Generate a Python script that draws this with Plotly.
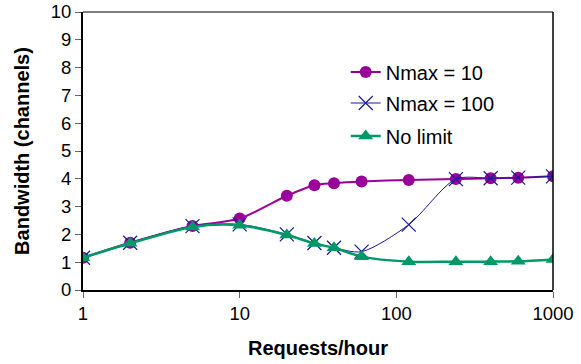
import plotly.graph_objects as go

requests = [1, 2, 5, 10, 20, 30, 40, 60, 120, 240, 400, 600, 1000]
nmax10 = [1.16, 1.70, 2.30, 2.57, 3.39, 3.77, 3.84, 3.90, 3.96, 3.99, 4.02, 4.04, 4.09]
nmax100 = [1.16, 1.70, 2.30, 2.36, 2.00, 1.69, 1.52, 1.38, 2.35, 3.99, 4.02, 4.04, 4.09]
nolimit = [1.16, 1.68, 2.27, 2.33, 1.98, 1.67, 1.52, 1.20, 1.02, 1.02, 1.02, 1.03, 1.10]
names = ["Nmax = 10", "Nmax = 100", "No limit"]
y_ticks = list(range(0, 11))
x_ticks = [1, 10, 100, 1000]

W, H = 581, 364
ML, MR, MT, MB = 83, 28, 12, 74
PH = H - MT - MB
FONT = "Arial, Liberation Sans, sans-serif"


def leg_y(py):
    # py: target pixel row in the window
    return 1 - (py - MT) / PH


fig = go.Figure()
fig.add_trace(go.Scatter(x=requests, y=nmax10, name=names[0], mode="lines+markers",
                         line=dict(color="#990099", width=2, shape="spline", smoothing=0.8),
                         marker=dict(symbol="circle", size=12, color="#990099"),
                         legend="legend", showlegend=True))
fig.add_trace(go.Scatter(x=requests, y=nmax100, name=names[1], mode="lines+markers",
                         line=dict(color="#1a1a99", width=1, shape="spline", smoothing=0.8),
                         marker=dict(symbol="x-thin", size=14, color="#1a1a99",
                                     line=dict(color="#1a1a99", width=1.2)),
                         legend="legend2", showlegend=True))
fig.add_trace(go.Scatter(x=requests, y=nolimit, name=names[2], mode="lines+markers",
                         line=dict(color="#009966", width=2.5, shape="spline", smoothing=0.8),
                         marker=dict(symbol="triangle-up", size=13, color="#009966"),
                         legend="legend3", showlegend=True))

leg = dict(xanchor="left", yanchor="middle", bgcolor="rgba(0,0,0,0)",
           font=dict(family=FONT, size=20, color="#000"),
           itemwidth=30, visible=True)
fig.update_layout(
    width=W, height=H,
    showlegend=True,
    margin=dict(l=ML, r=MR, t=MT, b=MB, autoexpand=False),
    paper_bgcolor="white", plot_bgcolor="white",
    font=dict(family=FONT, size=18.5, color="#000"),
    legend=dict(leg, x=0.559, y=leg_y(72)),
    legend2=dict(leg, x=0.559, y=leg_y(103)),
    legend3=dict(leg, x=0.559, y=leg_y(136)),
    xaxis=dict(type="log", range=[0, 3], tickvals=x_ticks, ticktext=[str(v) for v in x_ticks],
               ticks="outside", ticklen=6, tickcolor="#666", showgrid=False, automargin=False,
               showline=True, linecolor="black", linewidth=2, mirror=False, zeroline=False,
               ticklabeloverflow="allow",
               title=dict(text="<b>Requests/hour</b>", font=dict(size=20), standoff=18),
               tickfont=dict(size=18.5)),
    yaxis=dict(range=[0, 10], tickvals=y_ticks, ticks="outside", ticklen=6, tickcolor="#666",
               showgrid=False, showline=True, linecolor="black", linewidth=2, zeroline=False,
               automargin=False, ticklabeloverflow="allow",
               title=dict(text="<b>Bandwidth (channels)</b>", font=dict(size=20), standoff=16),
               tickfont=dict(size=18.5)),
    shapes=[
        dict(type="line", xref="paper", yref="paper", x0=0, x1=1, y0=1, y1=1,
             line=dict(color="black", width=1)),
        dict(type="line", xref="paper", yref="paper", x0=1, x1=1, y0=0, y1=1,
             line=dict(color="black", width=1.5)),
    ],
)
fig.write_html("out.html", config={"displayModeBar": False},
               post_script="document.body.style.margin='0';document.body.style.overflow='hidden';")
